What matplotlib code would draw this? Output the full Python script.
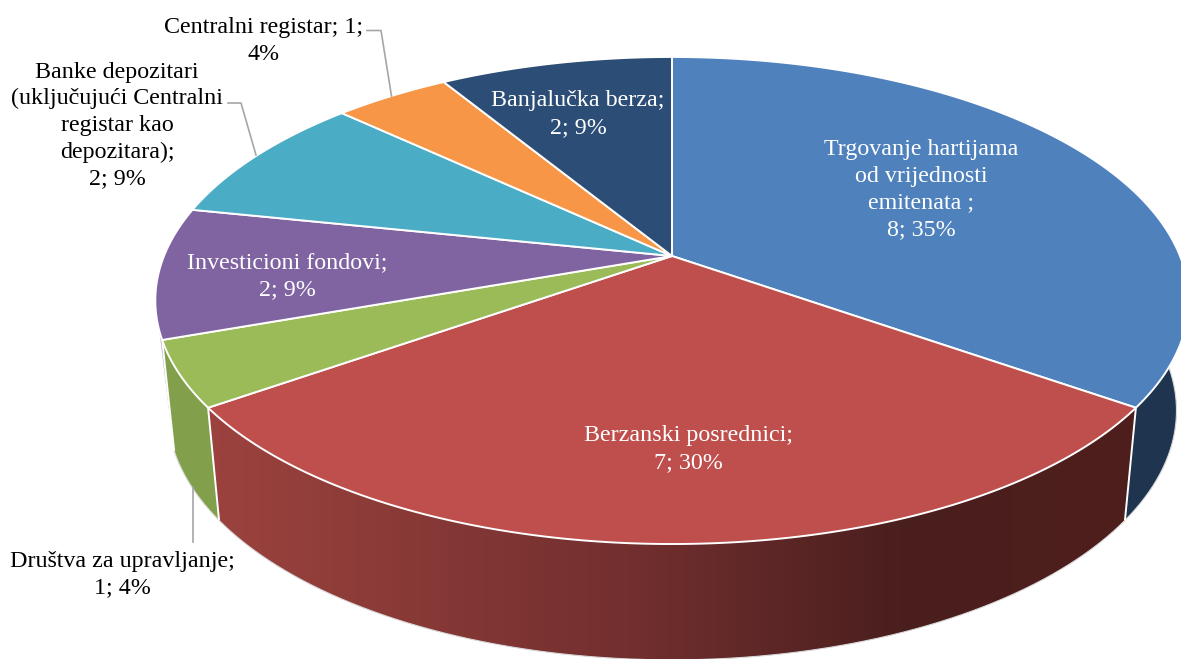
import numpy as np
import matplotlib
matplotlib.use("Agg")
import matplotlib.pyplot as plt
from matplotlib.patches import Polygon

categories = ["Trgovanje hartijama\nod vrijednosti\nemitenata ;", "Berzanski posrednici;",
              "Društva za upravljanje;", "Investicioni fondovi;",
              "Banke depozitari\n(uključujući Centralni\nregistar kao\ndepozitara);",
              "Centralni registar; 1;", "Banjalučka berza;"]
values = [8, 7, 1, 2, 2, 1, 2]
percents = [35, 30, 4, 9, 9, 4, 9]
top_colors = ["#4F81BD", "#BE4F4C", "#9BBB59", "#8064A2", "#4BACC6", "#F79646", "#2C4D75"]
BLUE_WALL, GREEN_WALL, PURPLE_WALL = "#1F344E", "#82A04B", "#5F4A80"
label_tails = ["\n{v}; {p}%", "\n{v}; {p}%", "\n{v}; {p}%", "\n{v}; {p}%", "\n{v}; {p}%", "\n{p}%", "\n{v}; {p}%"]
label_xy = [(921, 189.5), (688.5, 449), (122, 574.5), (287, 276), (117, 125.5), (264, 41), (578, 114)]
label_colors = ["white", "white", "black", "white", "black", "black", "white"]

CX, CY, A, B, K = 672, 256, 508, 235.4, 0.1827
CY2, A2, B2 = 365, 496, 241


def top(t):
    d = 1 + K * np.sin(t)
    return CX + A * np.cos(t) / d, CY - B * np.sin(t) / d


def bottom(t):
    d = 1 + K * np.sin(t)
    return CX + A2 * np.cos(t) / d, CY2 - B2 * np.sin(t) / d


fig = plt.figure(figsize=(11.81, 6.59), dpi=100)
ax = fig.add_axes([0, 0, 1, 1])
ax.set_xlim(0, 1181)
ax.set_ylim(659, 0)
ax.axis("off")

frac = np.cumsum([0] + values) / sum(values)
angles = np.pi / 2 - 2 * np.pi * frac


def wall_poly(t):
    xt, yt = top(t)
    xb, yb = bottom(t)
    return np.r_[np.c_[xt, yt], np.c_[xb, yb][::-1]]


# purple sliver, behind the green wall
a3 = angles[3]
pts = [top(a3 - 0.03), top(a3), bottom(a3)]
ax.add_patch(Polygon(pts, closed=True, facecolor=PURPLE_WALL, edgecolor="#D9D9D9", linewidth=0.5, zorder=2))

# blue and green walls
ax.add_patch(Polygon(wall_poly(np.linspace(angles[0], angles[1], 300)), closed=True,
                     facecolor=BLUE_WALL, edgecolor="none", zorder=2))
ax.add_patch(Polygon(wall_poly(np.linspace(angles[2], angles[3], 100)), closed=True,
                     facecolor=GREEN_WALL, edgecolor="none", zorder=2))

# red wall with horizontal gradient
gx = np.linspace(200, 1140, 470)
stops = [219, 400, 650, 900, 1125]
grad = np.stack([np.interp(gx, stops, [155, 137, 112, 74, 78]),
                 np.interp(gx, stops, [66, 58, 46, 31, 30]),
                 np.interp(gx, stops, [62, 55, 46, 30, 28])], axis=-1)[None, :, :] / 255
im = ax.imshow(grad, extent=(200, 1140, 659, 300), aspect="auto", zorder=2, interpolation="bilinear")
clip = Polygon(wall_poly(np.linspace(angles[1], angles[2], 400)), closed=True, transform=ax.transData)
im.set_clip_path(clip)
ax.set_xlim(0, 1181)
ax.set_ylim(659, 0)

# bottom outline and wall separators
t = np.linspace(a3, 0.1, 500)
ax.plot(*bottom(t), color="#D9D9D9", lw=0.8, zorder=3)
for a in angles[1:4]:
    xt, yt = top(a)
    xb, yb = bottom(a)
    ax.plot([xt, xb], [yt, yb], color="white", lw=1.4, zorder=3, solid_capstyle="butt")

# top faces
for i in range(len(values)):
    t = np.linspace(angles[i], angles[i + 1], 300)
    xt, yt = top(t)
    ax.add_patch(Polygon(np.r_[[(CX, CY)], np.c_[xt, yt]], closed=True, facecolor=top_colors[i],
                         edgecolor="white", linewidth=1.4, joinstyle="round", zorder=4))

# leader lines
for xs, ys in [([367, 381, 391.5], [30.5, 30.5, 96]),
               ([228, 241, 256], [103, 103, 155]),
               ([192.5, 192.5], [487, 542])]:
    ax.plot(xs, ys, color="#A6A6A6", lw=1.2, zorder=5)

# labels
for name, v, p, tail, (x, y), c in zip(categories, values, percents, label_tails, label_xy, label_colors):
    ax.text(x, y, name + tail.format(v=v, p=p), ha="center", va="center", color=c, fontsize=17.3,
            linespacing=1.345, family=["Liberation Serif", "DejaVu Serif"], zorder=6)

fig.savefig("out.png", dpi=100)
